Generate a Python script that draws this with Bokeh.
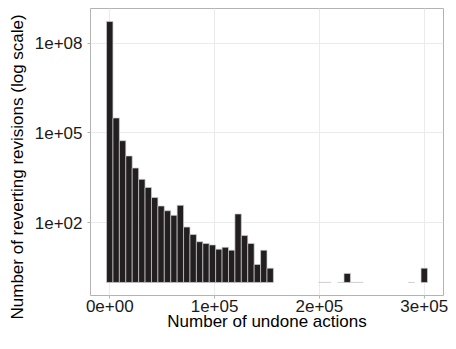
import math
from bokeh.plotting import figure
from bokeh.models import Range1d, FixedTicker, ColumnDataSource, Title
from bokeh.embed import file_html
from bokeh.resources import INLINE

# Histogram data: 50 bins centred on multiples of bin_width
bin_width = 300000 / 49
counts = [530000000, 316000, 55000, 17000, 6700, 2800, 1500, 690, 360, 250,
          175, 380, 71, 40, 23, 20, 18, 13, 15, 12,
          195, 37, 20, 4, 12, 3, 0, 0, 0, 0,
          0, 0, 0, 1, 1, 0, 1, 2, 1, 1,
          0, 0, 0, 0, 0, 0, 0, 1, 0, 3]

x_ticks = [0, 100000, 200000, 300000]
x_tick_labels = ["0e+00", "1e+05", "2e+05", "3e+05"]
y_ticks = [1e2, 1e5, 1e8]
y_tick_labels = ["1e+02", "1e+05", "1e+08"]

x_title = "Number of undone actions"
y_title = "Number of reverting revisions (log scale)"

# build source (skip empty bins, which vanish on a log scale)
centers = [i * bin_width for i in range(len(counts))]
left = [c - bin_width / 2 for c, n in zip(centers, counts) if n > 0]
right = [c + bin_width / 2 for c, n in zip(centers, counts) if n > 0]
top = [n for n in counts if n > 0]
bottom = [1] * len(top)
src = ColumnDataSource(dict(left=left, right=right, top=top, bottom=bottom))

# ggplot-like expansion (5%) of the ranges
x_lo, x_hi = -bin_width / 2, centers[-1] + bin_width / 2
x_pad = (x_hi - x_lo) * 0.05
y_lo_log, y_hi_log = 0.0, math.log10(max(counts))
y_pad = (y_hi_log - y_lo_log) * 0.05

W, H = 448, 333
p = figure(width=W, height=H, output_backend="svg", toolbar_location=None,
           y_axis_type="log",
           x_range=Range1d(x_lo - x_pad, x_hi + x_pad),
           y_range=Range1d(10 ** (y_lo_log - y_pad), 10 ** (y_hi_log + y_pad)),
           min_border_left=89, min_border_right=5, min_border_top=8,
           min_border_bottom=0)

p.background_fill_color = "white"
p.border_fill_color = "white"
p.outline_line_color = "#b3b3b3"
p.outline_line_width = 1

p.quad(left="left", right="right", top="top", bottom="bottom", source=src,
       fill_color="#231f20", line_color="#cfcfcf", line_width=0.7)

for ax in (p.xaxis[0], p.yaxis[0]):
    ax.axis_line_color = None
    ax.major_tick_line_color = "#b3b3b3"
    ax.major_tick_out = 3
    ax.major_tick_in = 0
    ax.minor_tick_line_color = None
    ax.major_label_text_font = "Liberation Sans"
    ax.major_label_text_font_size = "17px"
    ax.major_label_text_color = "#1a1a1a"
    ax.axis_label_text_font = "Liberation Sans"
    ax.axis_label_text_font_size = "17px"
    ax.axis_label_text_font_style = "normal"
    ax.axis_label_text_color = "#000000"

p.xaxis.ticker = FixedTicker(ticks=x_ticks)
p.xaxis.major_label_overrides = dict(zip(x_ticks, x_tick_labels))
p.yaxis.ticker = FixedTicker(ticks=y_ticks)
p.yaxis.major_label_overrides = {t: l for t, l in zip(y_ticks, y_tick_labels)}
p.xaxis.major_label_standoff = 1
p.yaxis.major_label_standoff = 5
p.xaxis.axis_label = x_title
p.xaxis.axis_label_standoff = -3

# y title as a side title, so that it can be shifted along the frame
p.add_layout(Title(text=y_title, align="left", offset=-24, vertical_align="bottom",
                   standoff=10, text_font="Liberation Sans", text_font_size="17px",
                   text_font_style="normal", text_color="#000000"), "left")

p.xgrid.ticker = FixedTicker(ticks=x_ticks)
p.ygrid.ticker = FixedTicker(ticks=y_ticks)
p.grid.grid_line_color = "#ebebeb"
p.grid.grid_line_width = 1
p.grid.minor_grid_line_color = None

open("out.html", "w").write(file_html(p, INLINE))
